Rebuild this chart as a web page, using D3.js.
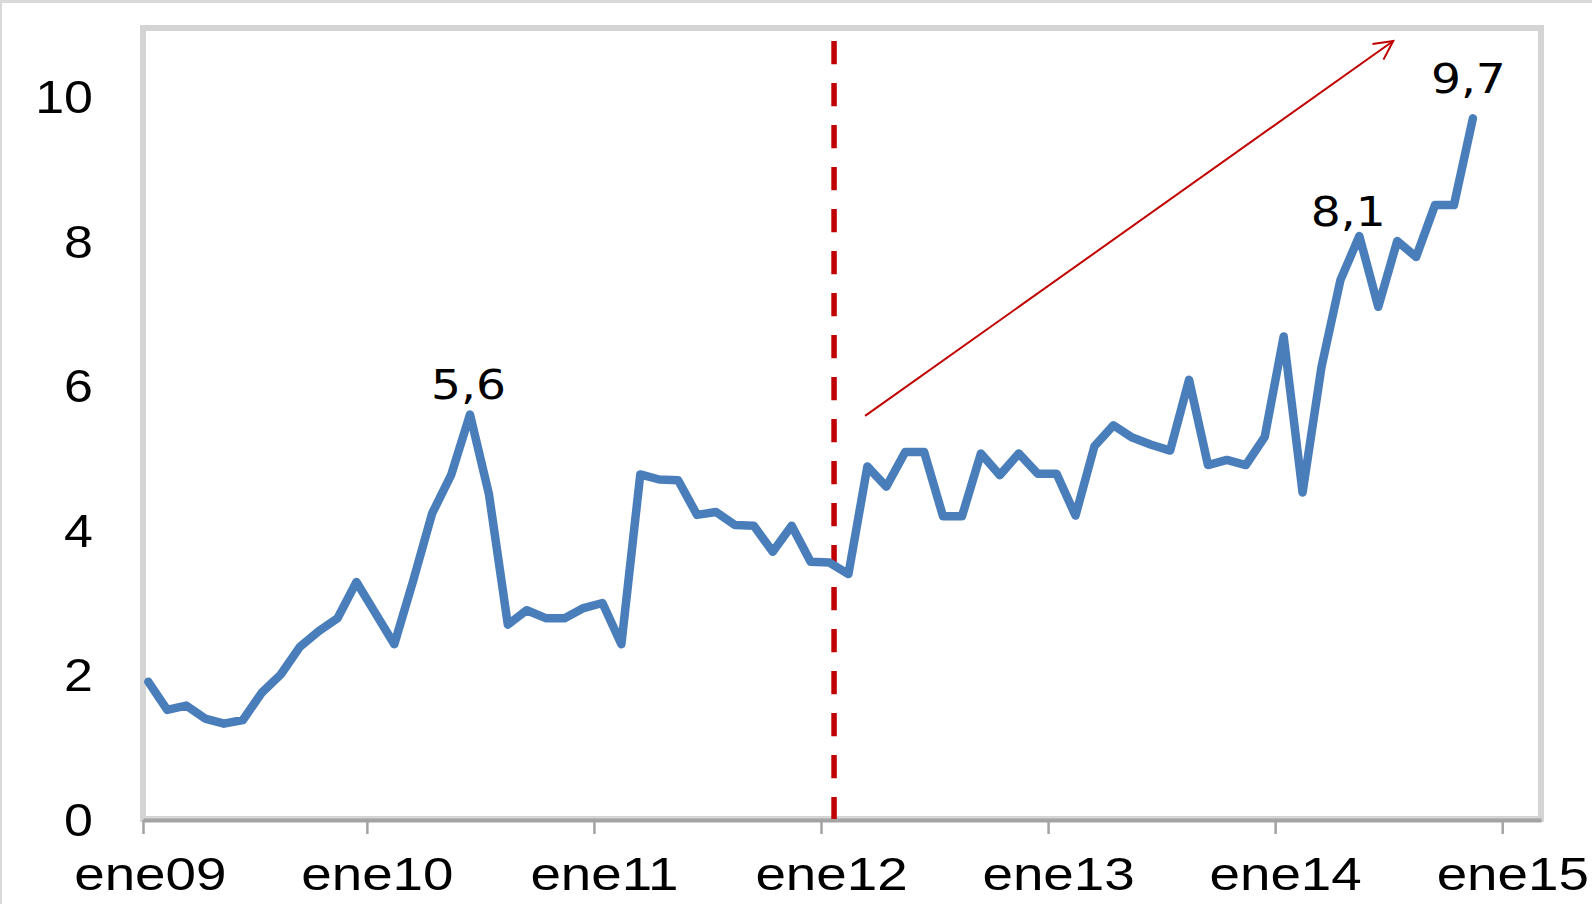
<!DOCTYPE html>
<html>
<head>
<meta charset="utf-8">
<script src="https://cdn.jsdelivr.net/npm/d3@7"></script>
<style>
  body { margin: 0; background: #fff; }
  svg { display: block; }
</style>
</head>
<body>
<svg id="chart" width="1592" height="904"></svg>
<script>
// monthly series, ene09 .. nov14
const values = [
  1.9, 1.51, 1.57, 1.39, 1.32, 1.37, 1.75, 2.0, 2.38, 2.6, 2.78, 3.28,
  2.85, 2.42, 3.3, 4.23, 4.76, 5.6, 4.5, 2.69, 2.89, 2.78, 2.78, 2.92,
  2.99, 2.42, 4.77, 4.7, 4.69, 4.21, 4.25, 4.07, 4.06, 3.7, 4.06, 3.56,
  3.55, 3.39, 4.88, 4.6, 5.08, 5.08, 4.19, 4.19, 5.06, 4.76, 5.06, 4.78,
  4.78, 4.2, 5.16, 5.45, 5.28, 5.18, 5.1, 6.08, 4.9, 4.97, 4.9, 5.29,
  6.68, 4.52, 6.26, 7.46, 8.07, 7.09, 8.0, 7.78, 8.5, 8.5, 9.7
];
const yearLabels = ["ene09", "ene10", "ene11", "ene12", "ene13", "ene14", "ene15"];
const yTicks = [0, 2, 4, 6, 8, 10];
// labelled points: [month index, text]
const callouts = [[17, "5,6"], [64, "8,1"], [70, "9,7"]];
// trend arrow and break line, in data units [month, value]
const arrowPts = [[37.88, 5.58], [65.79, 10.77]];
const breakLine = [[36.24, 0], [36.24, 10.77]];

const svg = d3.select("#chart");
const pl = 143, pr = 1541, pt = 28, pb = 819;

const x = d3.scaleLinear().domain([-0.28, 73.6]).range([pl, pr]);
const y = d3.scaleLinear().domain([0, 10.95]).range([pb, pt]);

// outer border (top/left only visible)
svg.append("line").attr("x1", 0).attr("y1", 1.5).attr("x2", 1592).attr("y2", 1.5)
  .attr("stroke", "#dadada").attr("stroke-width", 3);
svg.append("line").attr("x1", 1).attr("y1", 0).attr("x2", 1).attr("y2", 904)
  .attr("stroke", "#dadada").attr("stroke-width", 2);

// plot frame
svg.append("rect")
  .attr("x", pl).attr("y", pt)
  .attr("width", pr - pl).attr("height", pb - pt)
  .attr("fill", "none").attr("stroke", "#d4d4d4").attr("stroke-width", 6);

// x axis with ticks at year boundaries
const tickPos = yearLabels.map((d, k) => Math.max(12 * k - 0.45, -0.28));
const xAxis = svg.append("g")
  .attr("transform", `translate(0,${pb + 1})`)
  .call(d3.axisBottom(x).tickValues(tickPos).tickSize(14).tickSizeOuter(0).tickFormat(""));
xAxis.select(".domain").attr("stroke", "#a3a3a3").attr("stroke-width", 4);
xAxis.selectAll(".tick line").attr("stroke", "#a3a3a3").attr("stroke-width", 2.5);

// x labels (text looks horizontally stretched in the original)
svg.append("g").selectAll("text")
  .data(yearLabels)
  .join("text")
  .attr("transform", (d, k) => `translate(${x(12 * k) + 2},889.5) scale(1.19,1)`)
  .attr("text-anchor", "middle")
  .style("font-family", "'Liberation Sans', Arial, sans-serif")
  .style("font-size", "46px")
  .attr("fill", "#000")
  .text(d => d);

// y labels
svg.append("g").selectAll("text")
  .data(yTicks)
  .join("text")
  .attr("transform", d => `translate(93,${y(d) + 16.5}) scale(1.13,1)`)
  .attr("text-anchor", "end")
  .style("font-family", "'Liberation Sans', Arial, sans-serif")
  .style("font-size", "46px")
  .attr("fill", "#000")
  .text(d => d);

// dashed break line
svg.append("line")
  .attr("x1", x(breakLine[0][0])).attr("y1", y(breakLine[1][1]))
  .attr("x2", x(breakLine[1][0])).attr("y2", y(breakLine[0][1]))
  .attr("stroke", "#c00000").attr("stroke-width", 5.5)
  .attr("stroke-dasharray", "23.3,18.7");

// the series
const line = d3.line().x((d, i) => x(i)).y(d => y(d));
svg.append("path")
  .datum(values)
  .attr("d", line)
  .attr("fill", "none")
  .attr("stroke", "#4a7ebb")
  .attr("stroke-width", 8.5)
  .attr("stroke-linejoin", "round")
  .attr("stroke-linecap", "round");

// trend arrow
const ax1 = x(arrowPts[0][0]), ay1 = y(arrowPts[0][1]);
const ax2 = x(arrowPts[1][0]), ay2 = y(arrowPts[1][1]);
const ang = Math.atan2(ay1 - ay2, ax1 - ax2);
const headLen = 21, spread = 27 * Math.PI / 180;
svg.append("line")
  .attr("x1", ax1).attr("y1", ay1).attr("x2", ax2).attr("y2", ay2)
  .attr("stroke", "#c00000").attr("stroke-width", 2);
svg.append("path")
  .attr("d", `M${ax2 + headLen * Math.cos(ang + spread)},${ay2 + headLen * Math.sin(ang + spread)}` +
             `L${ax2},${ay2}` +
             `L${ax2 + headLen * Math.cos(ang - spread)},${ay2 + headLen * Math.sin(ang - spread)}`)
  .attr("fill", "none").attr("stroke", "#c00000").attr("stroke-width", 2);

// value callouts
const calloutShift = [[-1.5, -15], [-11, -10], [-4.5, -25]];
svg.append("g").selectAll("text")
  .data(callouts)
  .join("text")
  .attr("transform", (d, k) =>
    `translate(${x(d[0]) + calloutShift[k][0]},${y(values[d[0]]) + calloutShift[k][1]}) scale(1.15,1)`)
  .attr("text-anchor", "middle")
  .style("font-family", "'DejaVu Sans', Verdana, sans-serif")
  .style("font-size", "41px")
  .attr("fill", "#000")
  .text(d => d[1]);
</script>
</body>
</html>
